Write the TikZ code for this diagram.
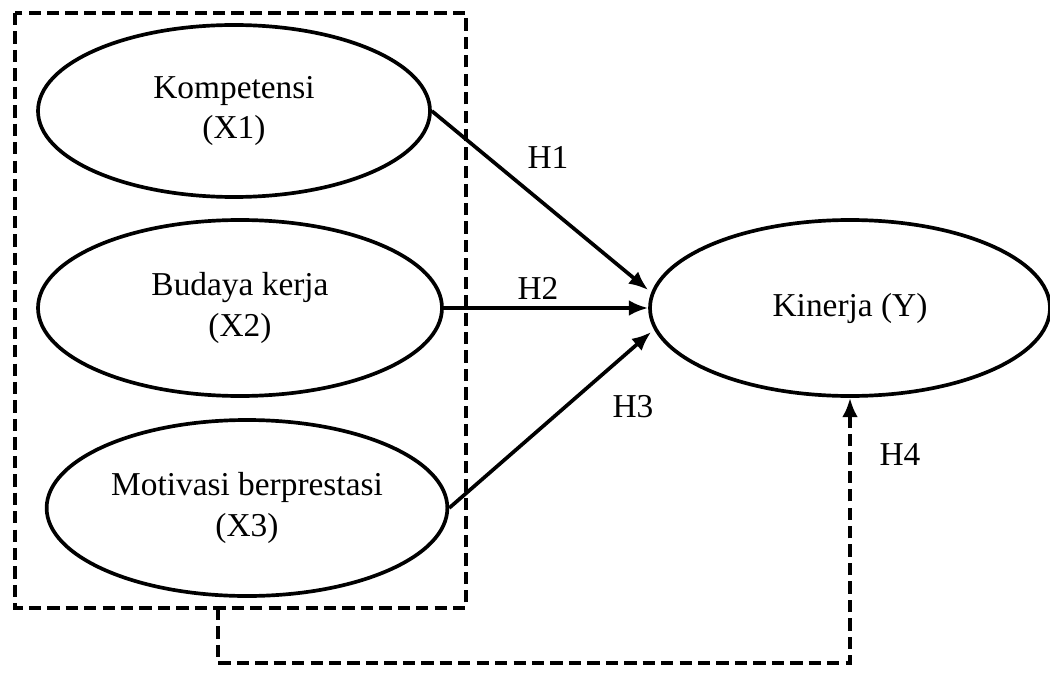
\documentclass[tikz,border=0pt]{standalone}
\usepackage{fontspec}
\setmainfont{Liberation Serif}
\usepackage{tikz}
\usetikzlibrary{calc}
\usetikzlibrary{shapes.geometric}
\usetikzlibrary{arrows.meta}

\begin{document}
\begin{tikzpicture}[x=0.02cm,y=-0.02cm,
    var/.style={draw,ellipse,line width=2.1pt,align=center,font=\fontsize{19}{23}\selectfont},
    hyp/.style={line width=2.1pt,-{Latex[length=11pt,width=9pt]}},
    box/.style={line width=2.3pt,dash pattern=on 7pt off 3.5pt}]
                \useasboundingbox (0,0) rectangle (1050,672);
                \node[var,minimum width=392*0.02cm,minimum height=172*0.02cm] (x1) at (234,111) {Kompetensi\\(X1)};
                \node[var,minimum width=404*0.02cm,minimum height=176*0.02cm] (x2) at (240,308) {Budaya kerja\\(X2)};
                \node[var,minimum width=400*0.02cm,minimum height=176*0.02cm] (x3) at (247,508) {Motivasi berprestasi\\(X3)};
                \node[var,minimum width=400*0.02cm,minimum height=176*0.02cm] (y) at (850,308) {Kinerja (Y)};
                \coordinate (tl) at (15,13);
                \coordinate (br) at (466,608);
                \draw[box] (tl) rectangle (br);
                \draw[hyp] (x1.east)--($(y.west)+(0,-18)$);
                \draw[hyp] (x2.east)--(y.west);
                \draw[hyp] (x3.east)--($(y.west)+(3,24)$);
                \coordinate (p) at (218,608);
                \draw[box,-{Latex[length=11pt,width=9pt]}] (p)--(218,663)--(850,663)--(y.south);
                \node[font=\fontsize{19}{23}\selectfont] (h1) at (548,157) {H1};
                \node[font=\fontsize{19}{23}\selectfont] (h2) at (538,288) {H2};
                \node[font=\fontsize{19}{23}\selectfont] (h3) at (633,407) {H3};
                \node[font=\fontsize{19}{23}\selectfont] (h4) at (900,455) {H4};
            \end{tikzpicture}
\end{document}
